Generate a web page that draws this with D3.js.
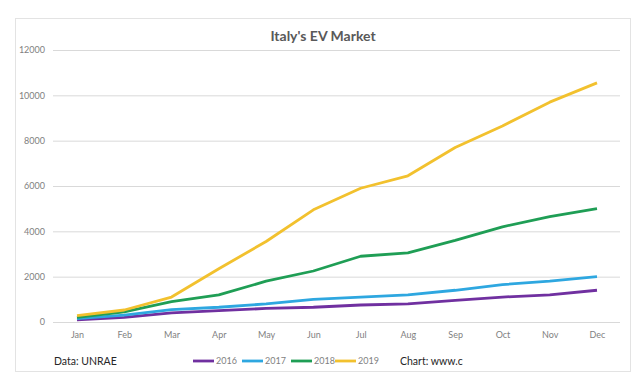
<!DOCTYPE html>
<html><head><meta charset="utf-8">
<script src="https://cdn.jsdelivr.net/npm/d3@7"></script>
<style>body{margin:0;background:#fff;font-family:Lato,"Open Sans",sans-serif;}</style>
</head><body><svg id="c" width="640" height="378"></svg>
<script>
const months = ["Jan","Feb","Mar","Apr","May","Jun","Jul","Aug","Sep","Oct","Nov","Dec"];
const years = ["2016","2017","2018","2019"];
const v2016 = [100,200,400,500,600,650,750,800,950,1100,1200,1400];
const v2017 = [150,300,550,650,800,1000,1100,1200,1400,1650,1800,2000];
const v2018 = [200,450,900,1200,1800,2250,2900,3050,3600,4200,4650,5000];
const v2019 = [280,530,1100,2350,3550,4950,5900,6450,7700,8650,9700,10550];
const yTicks = [0,2000,4000,6000,8000,10000,12000];
const colors = ["#7030a0","#2ea7e0","#1f9e55","#f2c12e"];
const series = [v2016,v2017,v2018,v2019];

const svg = d3.select("#c").attr("font-family","Lato, 'Open Sans', sans-serif");
svg.append("rect").attr("x",15.5).attr("y",18.5).attr("width",615).attr("height",353)
  .attr("fill","#fff").attr("stroke","#e3e3e3");

const x = d3.scalePoint().domain(months).range([77,597]);
const y = d3.scaleLinear().domain([0,12000]).range([322,50]);

const ga = svg.append("g").attr("transform","translate(53,0)");
ga.call(d3.axisLeft(y).tickValues(yTicks).tickSize(-567).tickPadding(8).tickFormat(d3.format("d")));
ga.select(".domain").remove();
ga.selectAll(".tick line").attr("stroke","#d9d9d9");
ga.selectAll(".tick text").attr("fill","#7f7f7f").attr("font-size",9).attr("font-family","Lato, sans-serif");

const gx = svg.append("g").attr("transform","translate(0,322)");
gx.call(d3.axisBottom(x).tickSize(0).tickPadding(10));
gx.select(".domain").remove();
gx.selectAll(".tick text").attr("fill","#7f7f7f").attr("font-size",9).attr("font-family","Lato, sans-serif");

const line = d3.line().x((d,i)=>x(months[i])).y(d=>y(d));
series.forEach((s,k)=>{
  svg.append("path").datum(s).attr("d",line).attr("fill","none")
    .attr("stroke",colors[k]).attr("stroke-width",2.8).attr("stroke-linejoin","round");
});

svg.append("text").attr("x",323).attr("y",41).attr("text-anchor","middle")
  .attr("font-size",14).attr("font-weight","bold").attr("fill","#595959").text("Italy's EV Market");

const legX = [193,242,291,335];
years.forEach((yr,k)=>{
  svg.append("line").attr("x1",legX[k]).attr("x2",legX[k]+21).attr("y1",361).attr("y2",361)
    .attr("stroke",colors[k]).attr("stroke-width",2.8);
  svg.append("text").attr("x",legX[k]+23).attr("y",364).attr("font-size",9).attr("fill","#7f7f7f").text(yr);
});
svg.append("text").attr("x",54).attr("y",365).attr("font-size",10.5).attr("fill","#262626").text("Data: UNRAE");
svg.append("text").attr("x",400).attr("y",365).attr("font-size",10.5).attr("fill","#262626").text("Chart: www.c");
</script></body></html>
